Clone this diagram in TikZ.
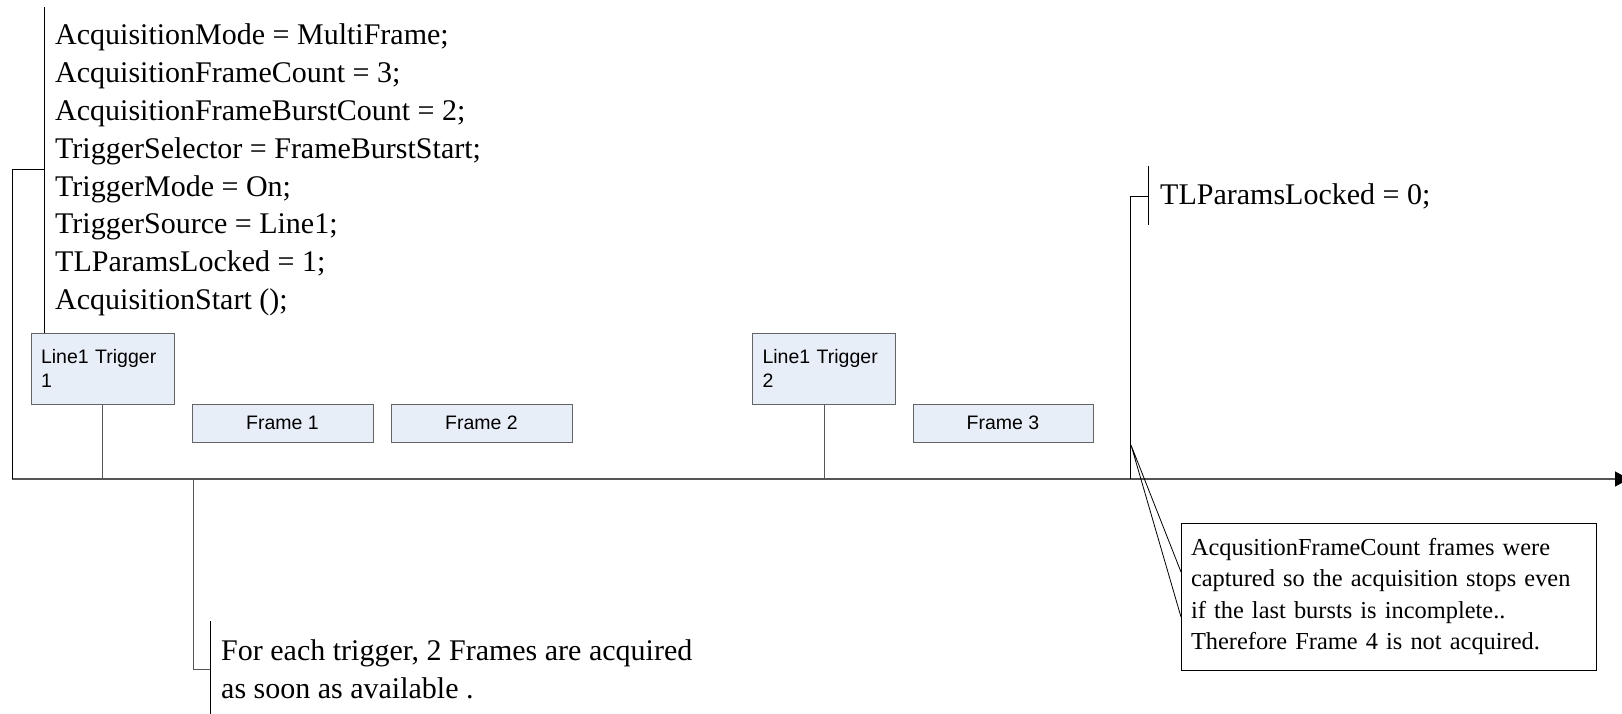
\documentclass[tikz,border=0pt]{standalone}
\usepackage{fontspec}
\setmainfont{Liberation Serif}
\newfontfamily\boxfont{Liberation Sans}
\usetikzlibrary{arrows.meta}
\definecolor{boxfill}{RGB}{232,238,247}
\definecolor{boxline}{RGB}{100,100,100}
\definecolor{axisline}{RGB}{85,85,85}
\begin{document}
\begin{tikzpicture}[x=1pt,y=-1pt,
  bigtext/.style={font=\fontsize{30}{37.8}\selectfont, inner sep=0, anchor=base west, align=left},
  bluebox/.style={draw=boxline, fill=boxfill, line width=1pt, font=\boxfont\fontsize{19.5}{24}\selectfont, inner ysep=0},
  trigbox/.style={bluebox, minimum width=143pt, minimum height=71pt, text width=123pt, inner xsep=10pt, align=left},
  framebox/.style={bluebox, minimum width=181pt, minimum height=38pt, inner xsep=0},
  notebox/.style={draw=black, line width=1pt, font=\fontsize{24.4}{31.2}\selectfont, minimum width=415pt, minimum height=147pt, text width=395pt, inner xsep=10pt, inner ysep=0, align=left},
  bracket/.style={draw=black, line width=1pt},
  axis/.style={draw=axisline, line width=1.4pt}
]
\useasboundingbox (0,0) rectangle (1622,713);

% boxes
\node[trigbox] (trig1) at (102.5,368.5) {Line1 Trigger\\1};
\node[trigbox] (trig2) at (824,368.5) {Line1 Trigger\\2};
\node[framebox] (frame1) at (282.5,423) {Frame 1};
\node[framebox] (frame2) at (481.5,423) {Frame 2};
\node[framebox, minimum width=180pt] (frame3) at (1003,423) {Frame 3};
\node[notebox] (note) at (1388.5,596.5) {AcqusitionFrameCount frames were\\captured so the acquisition stops even\\if the last bursts is incomplete..\\Therefore Frame 4 is not acquired.};

% texts (base anchor = baseline of the last line)
\node[bigtext] (setup) at (55,309.5) {AcquisitionMode = MultiFrame;\\AcquisitionFrameCount = 3;\\AcquisitionFrameBurstCount = 2;\\TriggerSelector = FrameBurstStart;\\TriggerMode = On;\\TriggerSource = Line1;\\TLParamsLocked = 1;\\AcquisitionStart ();};
\node[bigtext] (unlock) at (1160,204) {TLParamsLocked = 0;};
\node[bigtext] (each) at (221,698.5) {For each trigger, 2 Frames are acquired\\as soon as available .};

% coordinates
\coordinate (t0) at (12,479);
\coordinate (tend) at (1629,479);
\coordinate (b1top) at (44,7);
\coordinate (b1bot) at (44,333);
\coordinate (b1mid) at (44,169);
\coordinate (s1) at (12,169);
\coordinate (tr1) at (102.5,479);
\coordinate (tr2) at (824,479);
\coordinate (f1t) at (193,479);
\coordinate (f1c) at (193,669);
\coordinate (b2mid) at (210,669);
\coordinate (b2top) at (210,621);
\coordinate (b2bot) at (210,716);
\coordinate (ut) at (1130,479);
\coordinate (uc) at (1130,196);
\coordinate (b3mid) at (1148,196);
\coordinate (b3top) at (1148,166);
\coordinate (b3bot) at (1148,225);
\coordinate (ptip) at (1131,445);
\coordinate (pa) at (1181,572);
\coordinate (pb) at (1181,617);

% timeline
\draw[axis, -{Triangle[length=14pt,width=15pt,color=black]}] (t0) -- (tend);

% setup bracket
\draw[bracket] (b1top) -- (b1bot);
\draw[bracket] (b1mid) -- (s1) -- (t0);

% trigger connectors
\draw[axis, line width=1pt] (trig1.south) -- (tr1);
\draw[axis, line width=1pt] (trig2.south) -- (tr2);

% bottom callout
\draw[axis, line width=1pt] (f1t) -- (f1c) -- (b2mid);
\draw[bracket] (b2top) -- (b2bot);

% unlock callout
\draw[bracket] (ut) -- (uc) -- (b3mid);
\draw[bracket] (b3top) -- (b3bot);

% note pointer
\draw[bracket, line width=0.8pt] (pa) -- (ptip) -- (pb);
\end{tikzpicture}
\end{document}
